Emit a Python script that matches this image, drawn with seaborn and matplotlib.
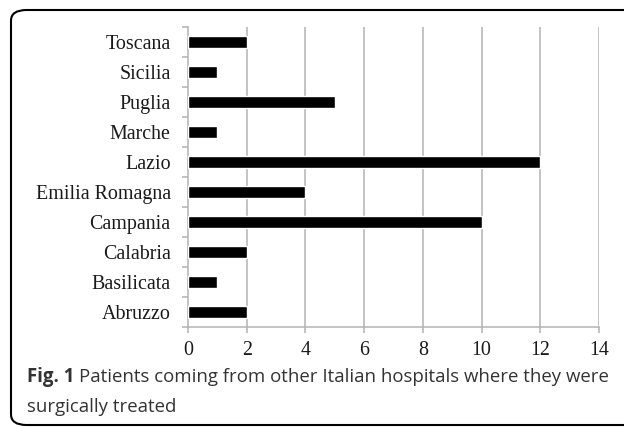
import matplotlib
matplotlib.use("Agg")
import matplotlib.pyplot as plt
import seaborn as sns
import pandas as pd
from matplotlib.patches import FancyBboxPatch
from matplotlib.ticker import FixedLocator

# data, top to bottom as shown
regions = ["Toscana", "Sicilia", "Puglia", "Marche", "Lazio",
           "Emilia Romagna", "Campania", "Calabria", "Basilicata", "Abruzzo"]
patients = [2, 1, 5, 1, 12, 4, 10, 2, 1, 2]
x_ticks = [0, 2, 4, 6, 8, 10, 12, 14]

df = pd.DataFrame({"region": regions, "patients": patients})

sns.set_style("white")
plt.rcParams["font.family"] = ["Liberation Serif", "DejaVu Serif"]

fig = plt.figure(figsize=(6.24, 4.28), dpi=100)
ax = fig.add_axes([188 / 624, 1 - 327 / 428, (599 - 188) / 624, 300 / 428])

sns.barplot(data=df, x="patients", y="region", order=regions, orient="h",
            color="black", width=0.4, ax=ax, zorder=3)

grid_col = "#b3b3b3"
ax.set_xlim(0, 14)
ax.set_ylim(len(regions) - 0.5, -0.5)
ax.set_xticks(x_ticks)
ax.set_xticklabels([str(t) for t in x_ticks])
for t in x_ticks[1:]:
    ax.axvline(t, color=grid_col, lw=1.1, zorder=1)

ax.set_xlabel("")
ax.set_ylabel("")
for s in ["top", "right"]:
    ax.spines[s].set_visible(False)
for s in ["left", "bottom"]:
    ax.spines[s].set_color(grid_col)
    ax.spines[s].set_linewidth(1.1)

ax.yaxis.set_minor_locator(FixedLocator([i - 0.5 for i in range(len(regions) + 1)]))
ax.tick_params(axis="y", which="major", length=0, pad=12.5, labelsize=14.4, colors="#1a1a1a")
ax.tick_params(axis="y", which="minor", length=4.5, width=1.1, color=grid_col, left=True)
ax.tick_params(axis="x", which="major", length=4.5, width=1.1, color=grid_col,
               pad=5.5, labelsize=14.4, labelcolor="#1a1a1a", bottom=True)

# rounded frame around the figure
frame = FancyBboxPatch((11 / 624, 3 / 428), 640 / 624, 415 / 428,
                       boxstyle="round,pad=0,rounding_size=0.025",
                       transform=fig.transFigure, fill=False,
                       edgecolor="black", linewidth=1.5)
fig.patches.append(frame)

cap_font = ["Open Sans", "DejaVu Sans"]
cap_size = 13.4
fig_lbl = fig.text(27 / 624, 1 - 377 / 428, "Fig. 1", fontsize=cap_size, fontweight="bold",
                   family=cap_font, color="#333333", va="center")
fig.canvas.draw()
bb = fig_lbl.get_window_extent(fig.canvas.get_renderer())
fig.text((bb.x1 + 5) / 624, 1 - 377 / 428,
         "Patients coming from other Italian hospitals where they were",
         fontsize=cap_size, family=cap_font, color="#333333", va="center")
fig.text(27 / 624, 1 - 407 / 428, "surgically treated", fontsize=cap_size,
         family=cap_font, color="#333333", va="center")

fig.savefig("out.png", dpi=100)
